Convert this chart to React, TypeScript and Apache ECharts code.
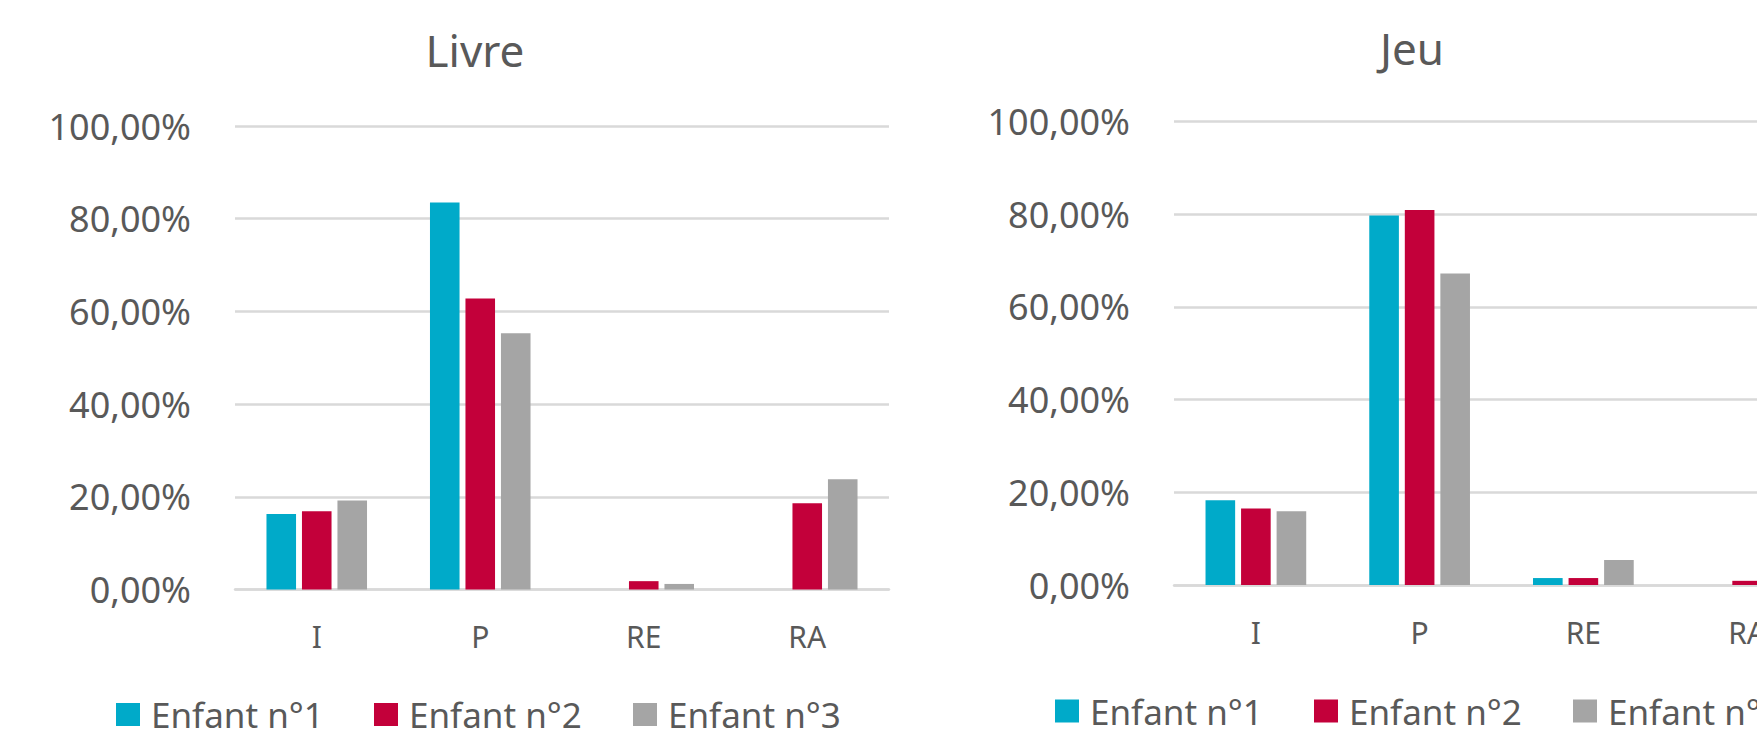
import React, { useEffect, useRef } from "react";
import * as echarts from "echarts";

const categories = ["I", "P", "RE", "RA"];
const seriesNames = ["Enfant n°1", "Enfant n°2", "Enfant n°3"];
const colors = ["#00AAC9", "#C3003A", "#A5A5A5"];

const livreEnfant1 = [16.3, 83.5, 0, 0];
const livreEnfant2 = [16.9, 62.8, 1.8, 18.6];
const livreEnfant3 = [19.2, 55.3, 1.2, 23.8];

const jeuEnfant1 = [18.3, 79.7, 1.5, 0];
const jeuEnfant2 = [16.5, 80.9, 1.5, 0.9];
const jeuEnfant3 = [15.9, 67.2, 5.4, 11.5];

const yMin = 0;
const yMax = 100;
const yInterval = 20;

const FONT = "'Noto Sans', 'Open Sans', sans-serif";
const TEXT = "#595959";
const GRID = "#D9D9D9";

export default function App() {
  const ref = useRef<HTMLDivElement>(null);

  useEffect(() => {
    if (!ref.current) return;
    const chart = echarts.init(ref.current, undefined, { renderer: "svg" });

    const fmt = (v: number) => v.toFixed(2).replace(".", ",") + "%";

    const xAxisCfg = (gridIndex: number) => ({
      type: "category",
      gridIndex,
      data: categories,
      axisTick: { show: false },
      axisLine: { lineStyle: { color: GRID, width: 2.5 } },
      axisLabel: {
        fontSize: 30,
        color: TEXT,
        fontFamily: FONT,
        margin: 47,
        verticalAlign: "middle",
      },
    });
    const yAxisCfg = (gridIndex: number) => ({
      type: "value",
      gridIndex,
      min: yMin,
      max: yMax,
      interval: yInterval,
      axisLine: { show: false },
      axisTick: { show: false },
      splitLine: { lineStyle: { color: GRID, width: 2.5 } },
      axisLabel: {
        fontSize: 36,
        color: TEXT,
        fontFamily: FONT,
        margin: 44,
        formatter: fmt,
      },
    });

    const livre = [livreEnfant1, livreEnfant2, livreEnfant3];
    const jeu = [jeuEnfant1, jeuEnfant2, jeuEnfant3];
    const series: any[] = [];
    [livre, jeu].forEach((set, gi) => {
      set.forEach((data, si) => {
        series.push({
          type: "bar",
          name: seriesNames[si],
          xAxisIndex: gi,
          yAxisIndex: gi,
          data,
          itemStyle: { color: colors[si] },
          barCategoryGap: "38.5%",
          barGap: "20%",
        });
      });
    });

    const legendPos = [
      { left: 116, top: 697 },
      { left: 374, top: 697 },
      { left: 633, top: 697 },
      { left: 1055, top: 693.5 },
      { left: 1314, top: 693.5 },
      { left: 1573, top: 693.5 },
    ];
    const legends = legendPos.map((p, i) => ({
      data: [seriesNames[i % 3]],
      left: p.left,
      top: p.top,
      padding: 0,
      icon: "rect",
      itemWidth: 24,
      itemHeight: 23,
      selectedMode: false,
      textStyle: {
        fontSize: 35,
        color: TEXT,
        fontFamily: FONT,
        padding: [0, 0, 0, 6],
      },
    }));

    const titleStyle = (text: string) => ({
      text,
      fontSize: 44,
      fill: TEXT,
      fontFamily: FONT,
      align: "center",
      verticalAlign: "middle",
      textAlign: "center",
      textVerticalAlign: "middle",
    });

    chart.setOption({
      animation: false,
      backgroundColor: "#FFFFFF",
      graphic: [
        { type: "text", x: 475, y: 50, style: titleStyle("Livre") },
        { type: "text", x: 1412, y: 47.5, style: titleStyle("Jeu") },
      ],
      legend: legends,
      grid: [
        { left: 235, top: 126, width: 654, height: 463.5 },
        { left: 1174, top: 121.5, width: 655, height: 463.5 },
      ],
      xAxis: [xAxisCfg(0), xAxisCfg(1)],
      yAxis: [yAxisCfg(0), yAxisCfg(1)],
      series,
    });

    return () => chart.dispose();
  }, []);

  return (
    <div
      style={{
        position: "fixed",
        left: 0,
        top: 0,
        width: 1757,
        height: 755,
        overflow: "hidden",
        background: "#FFFFFF",
      }}
    >
      <div ref={ref} style={{ width: 1900, height: 755 }} />
    </div>
  );
}
